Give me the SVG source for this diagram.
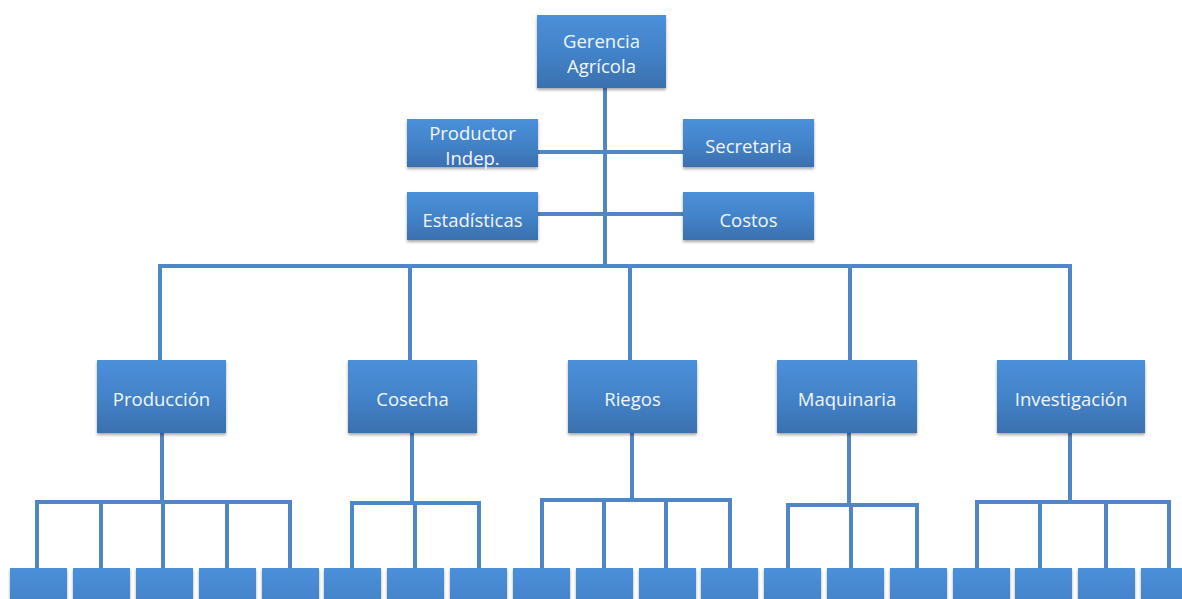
<svg xmlns="http://www.w3.org/2000/svg" width="1182" height="599" viewBox="0 0 1182 599">
<style>
.box{fill:url(#g);filter:url(#sh)}
.t{font-family:"Open Sans","Noto Sans",sans-serif;font-size:18.5px;fill:#f2f6fb;text-anchor:middle}
.c{stroke:#4f86c6;stroke-width:4;fill:none;stroke-linecap:butt}
</style>
<defs>
<linearGradient id="g" x1="0" y1="0" x2="0" y2="1">
<stop offset="0" stop-color="#4a90da"/>
<stop offset="0.5" stop-color="#4383c9"/>
<stop offset="1" stop-color="#3a70ae"/>
</linearGradient>
<filter id="sh" x="-10%" y="-10%" width="125%" height="130%">
<feGaussianBlur in="SourceAlpha" stdDeviation="1.5"/>
<feOffset dx="0" dy="2" result="b"/>
<feComponentTransfer><feFuncA type="linear" slope="0.35"/></feComponentTransfer>
<feMerge><feMergeNode/><feMergeNode in="SourceGraphic"/></feMerge>
</filter>
</defs>
<g id="connectors">
<path class="c" d="M605 88V266M538 152H683M538 214H683M160 266H1072M160 264V360M410 264V360M630 264V360M850 264V360M1070 264V360"/>
<path class="c" d="M162 423V502M37 502H292M37 500V570M101 500V570M163 500V570M227 500V570M290 500V570"/>
<path class="c" d="M412 423V503M352 503H481M352 501V570M415 501V570M479 501V570"/>
<path class="c" d="M632 433V500M542 500H732M542 498V570M604 498V570M666 498V570M730 498V570"/>
<path class="c" d="M849 423V505M788 505H919M788 503V580M851 503V570M917 503V570"/>
<path class="c" d="M1070 433V502M977 502H1171M977 500V570M1040 500V570M1106 500V570M1169 500V570"/>
</g>
<g id="gerencia"><rect class="box" x="537" y="15" width="129" height="73"/><text class="t" x="601.5" y="48">Gerencia</text><text class="t" x="601.5" y="73">Agrícola</text></g>
<g id="productor"><rect class="box" x="407" y="119" width="131" height="48"/><text class="t" x="472.5" y="140">Productor</text><text class="t" x="472.5" y="165">Indep.</text></g>
<g id="secretaria"><rect class="box" x="683" y="119" width="131" height="48"/><text class="t" x="748.5" y="153">Secretaria</text></g>
<g id="estadisticas"><rect class="box" x="407" y="192" width="131" height="48"/><text class="t" x="472.5" y="227">Estadísticas</text></g>
<g id="costos"><rect class="box" x="683" y="192" width="131" height="48"/><text class="t" x="748.5" y="227">Costos</text></g>
<g id="produccion"><rect class="box" x="97" y="360" width="129" height="73"/><text class="t" x="161.5" y="406">Producción</text></g>
<g id="cosecha"><rect class="box" x="348" y="360" width="129" height="73"/><text class="t" x="412.5" y="406">Cosecha</text></g>
<g id="riegos"><rect class="box" x="568" y="360" width="129" height="73"/><text class="t" x="632.5" y="406">Riegos</text></g>
<g id="maquinaria"><rect class="box" x="777" y="360" width="140" height="73"/><text class="t" x="847" y="406">Maquinaria</text></g>
<g id="investigacion"><rect class="box" x="997" y="360" width="148" height="73"/><text class="t" x="1071" y="406">Investigación</text></g>
<g id="subunits">
<g id="s1"><rect class="box" x="10" y="568" width="57" height="72"/></g>
<g id="s2"><rect class="box" x="73" y="568" width="57" height="72"/></g>
<g id="s3"><rect class="box" x="136" y="568" width="57" height="72"/></g>
<g id="s4"><rect class="box" x="199" y="568" width="57" height="72"/></g>
<g id="s5"><rect class="box" x="262" y="568" width="57" height="72"/></g>
<g id="s6"><rect class="box" x="324" y="568" width="57" height="72"/></g>
<g id="s7"><rect class="box" x="387" y="568" width="57" height="72"/></g>
<g id="s8"><rect class="box" x="450" y="568" width="57" height="72"/></g>
<g id="s9"><rect class="box" x="513" y="568" width="57" height="72"/></g>
<g id="s10"><rect class="box" x="576" y="568" width="57" height="72"/></g>
<g id="s11"><rect class="box" x="639" y="568" width="57" height="72"/></g>
<g id="s12"><rect class="box" x="701" y="568" width="57" height="72"/></g>
<g id="s13"><rect class="box" x="764" y="568" width="57" height="72"/></g>
<g id="s14"><rect class="box" x="827" y="568" width="57" height="72"/></g>
<g id="s15"><rect class="box" x="890" y="568" width="57" height="72"/></g>
<g id="s16"><rect class="box" x="953" y="568" width="57" height="72"/></g>
<g id="s17"><rect class="box" x="1015" y="568" width="57" height="72"/></g>
<g id="s18"><rect class="box" x="1078" y="568" width="57" height="72"/></g>
<g id="s19"><rect class="box" x="1141" y="568" width="57" height="72"/></g>
</g>
</svg>
